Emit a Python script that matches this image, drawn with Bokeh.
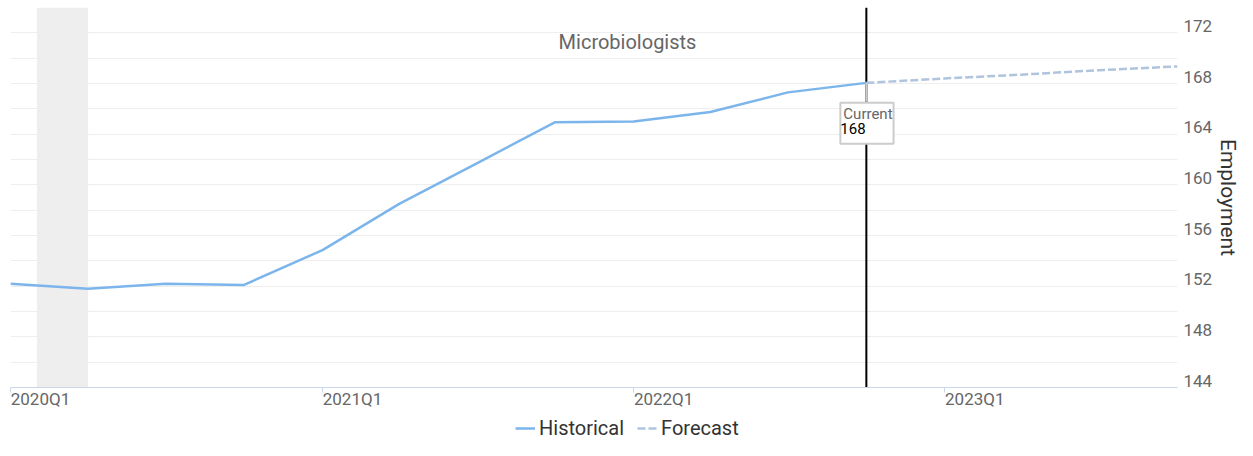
import math
import pandas as pd
from bokeh.plotting import figure
from bokeh.layouts import column
from bokeh.models import (Range1d, FixedTicker, Span, BoxAnnotation, Label, Legend,
                          LegendItem, CustomJSTickFormatter, LinearAxis)
from bokeh.embed import file_html
from bokeh.resources import INLINE

# ---------------- data ----------------
hist_quarters = ["2020-01-01", "2020-04-01", "2020-07-01", "2020-10-01",
                 "2021-01-01", "2021-04-01", "2021-07-01", "2021-10-01",
                 "2022-01-01", "2022-04-01", "2022-07-01", "2022-10-01"]
hist_values = [152.2, 151.8, 152.2, 152.1, 154.85, 158.5, 161.7, 164.95,
               165.0, 165.75, 167.3, 168.05]
fcst_quarters = ["2022-10-01", "2023-01-01", "2023-04-01", "2023-07-01", "2023-10-01"]
fcst_values = [168.05, 168.4, 168.7, 169.05, 169.35]
tick_dates = ["2020-01-01", "2021-01-01", "2022-01-01", "2023-01-01"]
tick_labels = ["2020Q1", "2021Q1", "2022Q1", "2023Q1"]
recession_start, recession_end = "2020-02-01", "2020-04-01"
current_date, current_value, current_text = "2022-10-01", 168.05, "168"
y_min, y_max, y_grid_step, y_label_step = 144, 174, 2, 4
title_text = "Microbiologists"
y_title = "Employment"
credits_text = "undefined"
series_names = ["Historical", "Forecast"]

FONT = "Roboto"
HIST_COLOR, FCST_COLOR = "#7cb5ec", "#b0c4de"


def ms(d):
    return pd.Timestamp(d).value / 1e6


hx = [ms(d) for d in hist_quarters]
fx = [ms(d) for d in fcst_quarters]

FW, FH = 1167, 380
x_start, x_end = ms(hist_quarters[0]), ms(fcst_quarters[-1])
p = figure(frame_width=FW, frame_height=FH, output_backend="svg", toolbar_location=None,
           x_axis_type="datetime", y_axis_location="right",
           x_range=Range1d(x_start, x_end), y_range=Range1d(y_min, y_max),
           min_border_left=10, min_border_top=7, min_border_bottom=30, min_border_right=76)
p.outline_line_color = None
p.background_fill_color = "white"

# grid every 2
p.xgrid.visible = False
p.ygrid.ticker = FixedTicker(ticks=list(range(y_min, y_max + 1, y_grid_step)))
p.ygrid.grid_line_color = "#eeeeee"
p.ygrid.grid_line_width = 1

# recession band
p.add_layout(BoxAnnotation(left=ms(recession_start), right=ms(recession_end),
                           fill_color="#eeeeee", fill_alpha=1.0, line_color=None,
                           level="underlay"))

# current vertical line
p.add_layout(Span(location=ms(current_date), dimension="height", line_color="black",
                  line_width=2, level="underlay"))

# series
r_hist = p.line(hx, hist_values, line_color=HIST_COLOR, line_width=2.5)
r_fcst = p.line(fx, fcst_values, line_color=FCST_COLOR, line_width=2.5, line_dash="8 3")

# y axis (right) - labels sit slightly above their grid lines
px_per_unit = FH / (y_max - y_min)
yshift = 7 / px_per_unit
yax = p.yaxis[0]
yax.ticker = FixedTicker(ticks=[v + yshift for v in range(y_min, y_max + 1, y_label_step)])
yax.formatter = CustomJSTickFormatter(code="return Math.floor(tick).toFixed(0);")
yax.axis_line_color = None
yax.major_tick_line_color = None
yax.minor_tick_line_color = None
yax.major_tick_in = 0
yax.major_tick_out = 0
yax.major_label_text_font = FONT
yax.major_label_text_font_size = "17px"
yax.major_label_text_color = "#666666"
yax.major_label_standoff = 6
yax.axis_label = y_title
yax.axis_label_text_font = FONT
yax.axis_label_text_font_size = "21px"
yax.axis_label_text_font_style = "normal"
yax.axis_label_text_color = "#333333"
yax.axis_label_standoff = 1

# x axis: line + tick marks
xax = p.xaxis[0]
xax.ticker = FixedTicker(ticks=[ms(d) for d in tick_dates])
xax.major_label_overrides = {ms(d): "" for d in tick_dates}
xax.major_label_text_font_size = "0px"
xax.major_label_standoff = 0
xax.axis_line_color = "#ccd6eb"
xax.major_tick_line_color = "#ccd6eb"
xax.major_tick_in = 0
xax.major_tick_out = 5
xax.minor_tick_line_color = None

# second x axis carrying the tick labels, left-aligned at the tick marks
ms_per_px = (x_end - x_start) / FW
xshift = 30 * ms_per_px
label_pos = [ms(d) + xshift for d in tick_dates]
xlab = LinearAxis(ticker=FixedTicker(ticks=label_pos),
                  formatter=CustomJSTickFormatter(
                      args=dict(names=tick_labels, pos=label_pos),
                      code="""
let best = 0, bd = Infinity;
for (let i = 0; i < pos.length; i++) {
  const dd = Math.abs(pos[i] - tick);
  if (dd < bd) { bd = dd; best = i; }
}
return names[best];"""),
                  axis_line_color=None, major_tick_line_color=None,
                  minor_tick_line_color=None, major_tick_in=0, major_tick_out=0,
                  major_label_standoff=-4, major_label_text_font=FONT,
                  major_label_text_font_size="17px", major_label_text_color="#666666")
p.add_layout(xlab, "below")

# title inside plot
p.add_layout(Label(x=617, y=FH - 34, x_units="screen", y_units="screen", text=title_text,
                   text_font=FONT, text_font_size="20px", text_color="#666666",
                   text_align="center", text_baseline="middle"))

# current annotation
p.ray(x=[ms(current_date)], y=[current_value], length=19, length_units="screen",
      angle=-math.pi / 2, line_color="#cccccc", line_width=2)
p.add_layout(Label(x=ms(current_date), y=current_value, text="Current", text_font=FONT,
                   text_font_size="15px", text_color="#666666", text_align="left",
                   text_baseline="top", x_offset=-26, y_offset=-20,
                   border_line_color="#cccccc", border_line_width=2,
                   background_fill_color="white",
                   padding=dict(left=3, right=1, top=2, bottom=21)))
p.add_layout(Label(x=ms(current_date), y=current_value, text=current_text, text_font=FONT,
                   text_font_size="15px", text_color="#000000", text_align="left",
                   text_baseline="top", x_offset=-26, y_offset=-40))

# ---------------- legend strip below the chart ----------------
total_w = 10 + FW + 76
q = figure(width=total_w, height=33, output_backend="svg", toolbar_location=None,
           x_range=Range1d(0, 1), y_range=Range1d(0, 1),
           x_axis_location=None, y_axis_location=None, min_border=0)
q.outline_line_color = None
q.grid.visible = False
lh = q.line(hx, hist_values, line_color=HIST_COLOR, line_width=2.5)
lf = q.line(fx, fcst_values, line_color=FCST_COLOR, line_width=2.5, line_dash="8 3")
legend = Legend(items=[LegendItem(label=series_names[0], renderers=[lh]),
                       LegendItem(label=series_names[1], renderers=[lf])],
                orientation="horizontal", location=(505, 10),
                label_text_font=FONT, label_text_font_size="20px", label_text_color="#333333",
                glyph_width=20, glyph_height=20, label_height=20, label_standoff=4, spacing=13,
                padding=0, margin=0, border_line_color=None, background_fill_alpha=0)
q.add_layout(legend, "center")
q.add_layout(Label(x=total_w - 14, y=5, x_units="screen", y_units="screen", text=credits_text,
                   text_font=FONT, text_font_size="10px", text_color="#999999",
                   text_align="right", text_baseline="middle"))

layout = column(p, q, spacing=0)
open("out.html", "w").write(file_html(layout, INLINE))
